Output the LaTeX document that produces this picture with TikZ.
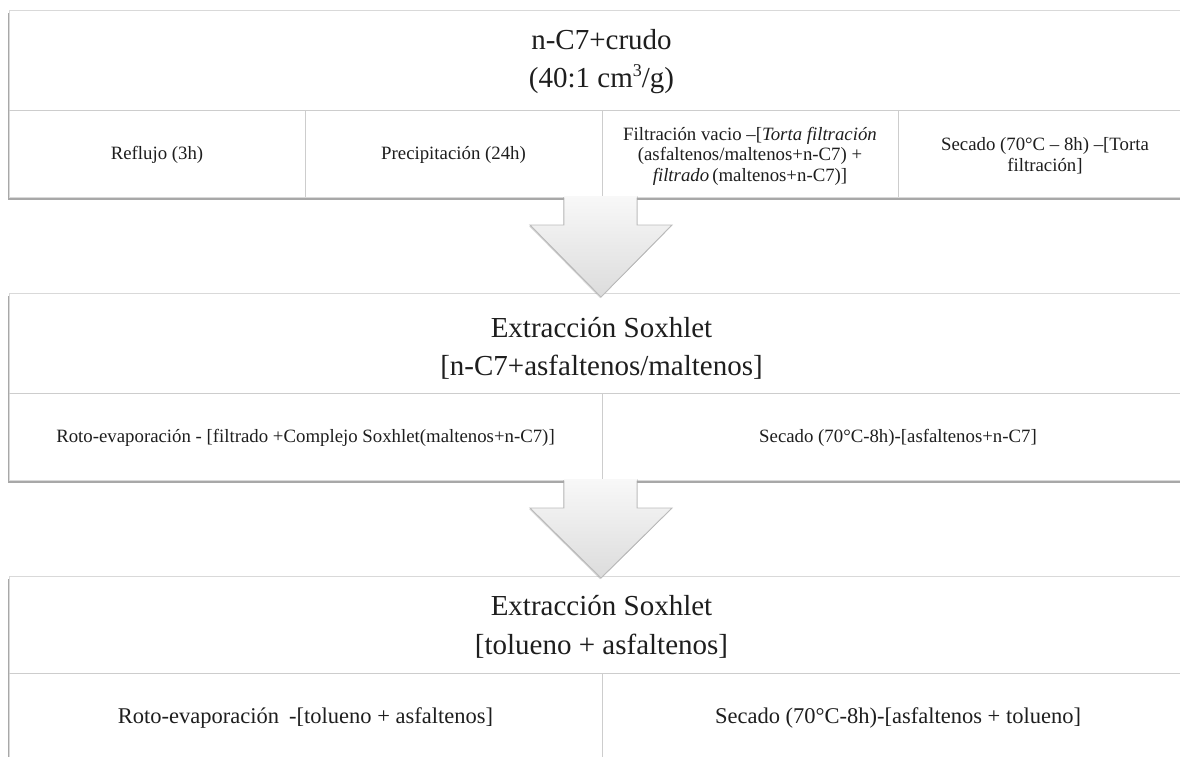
\documentclass[tikz,border=0pt]{standalone}
\usepackage{fontspec}
\setmainfont{Liberation Serif}
\usetikzlibrary{calc,shadows}
\definecolor{edge}{HTML}{D9D9D9}
\definecolor{divline}{HTML}{CDCDCD}
\definecolor{shade}{HTML}{8C8C8C}
\definecolor{ink}{HTML}{1E1E1E}
\definecolor{arrtop}{HTML}{F8F8F8}
\definecolor{arrbot}{HTML}{DCDCDC}
\definecolor{arredge}{HTML}{BBBBBB}
\begin{document}
\begin{tikzpicture}[x=1pt,y=-1pt,
  panel/.style={draw=edge, line width=1pt, fill=white, rectangle, inner sep=0pt,
    minimum width=1185pt,
    drop shadow={shadow xshift=-1pt, shadow yshift=-2.5pt, fill=shade, opacity=0.75}},
  divider/.style={draw=divline, line width=1pt},
  ttl/.style={font=\fontsize{29}{38}\selectfont, text=ink, inner sep=0pt, anchor=base},
  cell/.style={font=\fontsize{18.8}{20.5}\selectfont, text=ink, inner sep=0pt, anchor=base},
  bigcell/.style={font=\fontsize{22.5}{26}\selectfont, text=ink, inner sep=0pt, anchor=base},
  blockarrow/.style={top color=arrtop, bottom color=arrbot},
  arrowline/.style={draw=arredge, line width=0.9pt, line join=miter}
]
\useasboundingbox (0,0) rectangle (1180,757);
\clip (0,0) rectangle (1180,757);
\fill[white] (0,0) rectangle (1180,757);

% panels
\node[panel, minimum height=186pt] (box1) at (601.5,104) {};
\node[panel, minimum height=187pt] (box2) at (601.5,386.5) {};
\node[panel, minimum height=194pt] (box3) at (601.5,673) {};

% dividers
\draw[divider] (9,111) -- (1194,111);
\draw[divider] (305,111) -- (305,197);
\draw[divider] (602,111) -- (602,197);
\draw[divider] (898,111) -- (898,197);
\draw[divider] (9,393) -- (1194,393);
\draw[divider] (602,393) -- (602,480);
\draw[divider] (9,673) -- (1194,673);
\draw[divider] (602,673) -- (602,770);

% block arrows
\fill[blockarrow, drop shadow={shadow xshift=-0.8pt, shadow yshift=-1.2pt, fill=shade, opacity=0.35}]
  (564,196) -- (564,225) -- (530,225) -- (601,297) -- (672,225) -- (637,225) -- (637,196) -- cycle;
\draw[arrowline] (564,197.5) -- (564,225) -- (530,225) -- (601,297) -- (672,225) -- (637,225) -- (637,197.5);
\fill[blockarrow, drop shadow={shadow xshift=-0.8pt, shadow yshift=-1.2pt, fill=shade, opacity=0.35}]
  (564,479) -- (564,508) -- (530,508) -- (601,578) -- (672,508) -- (637,508) -- (637,479) -- cycle;
\draw[arrowline] (564,480.5) -- (564,508) -- (530,508) -- (601,578) -- (672,508) -- (637,508) -- (637,480.5);

% box 1 texts
\node[ttl] (t1a) at (601.5,50) {n-C7+crudo};
\node[ttl] (t1b) at (601.5,88) {(40:1 cm\raisebox{0.4em}{\fontsize{18}{18}\selectfont 3}/g)};
\node[cell] (c11) at (157,160) {Reflujo (3h)};
\node[cell] (c12) at (453.5,160) {Precipitación (24h)};
\node[cell] (c13a) at (750,140) {Filtración vacio –[\textit{Torta filtración}};
\node[cell] (c13b) at (750,160.5) {(asfaltenos/maltenos+n-C7) +};
\node[cell] (c13c) at (750,181) {\textit{filtrado}\,(maltenos+n-C7)]};
\node[cell] (c14a) at (1045,150.5) {Secado (70°C – 8h) –[Torta};
\node[cell] (c14b) at (1045,171) {filtración]};

% box 2 texts
\node[ttl] (t2a) at (601.5,337) {Extracción Soxhlet};
\node[ttl] (t2b) at (601.5,375) {[n-C7+asfaltenos/maltenos]};
\node[cell] (c21) at (305.5,442) {Roto-evaporación - [filtrado +Complejo Soxhlet(maltenos+n-C7)]};
\node[cell] (c22) at (898,442) {Secado (70°C-8h)-[asfaltenos+n-C7]};

% box 3 texts
\node[ttl] (t3a) at (601.5,615) {Extracción Soxhlet};
\node[ttl] (t3b) at (601.5,654) {[tolueno + asfaltenos]};
\node[bigcell] (c31) at (305.5,723) {Roto-evaporación\hspace{0.2em} -[tolueno + asfaltenos]};
\node[bigcell] (c32) at (898,723) {Secado (70°C-8h)-[asfaltenos + tolueno]};
\end{tikzpicture}
\end{document}
